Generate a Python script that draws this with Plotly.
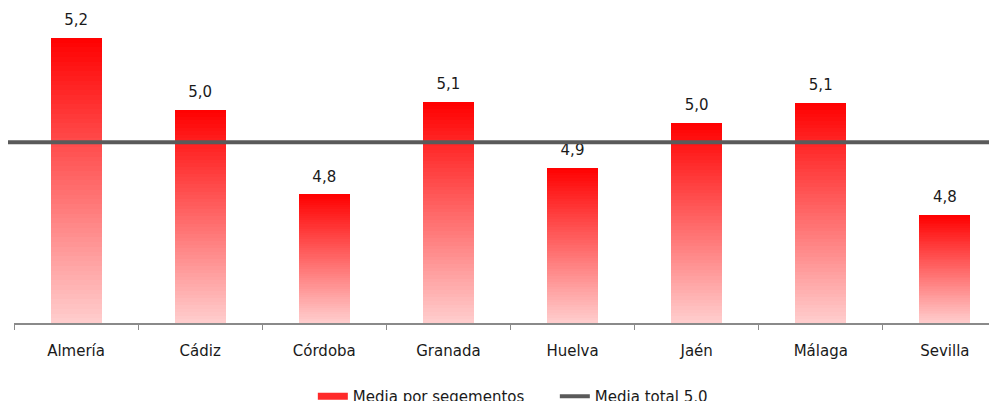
import plotly.graph_objects as go

# ---- data ----
provincias = ["Almería", "Cádiz", "Córdoba", "Granada", "Huelva", "Jaén", "Málaga", "Sevilla"]
media_segmentos = [5.214, 5.034, 4.822, 5.054, 4.889, 5.001, 5.052, 4.771]
media_total = 4.953
nombre_barras = "Media por segementos"
nombre_linea = "Media total 5,0"

# ---- styling ----
eje_min, eje_max = 4.5, 5.289
n_seg = 60
rojo_arriba = (255, 0, 0)
rosa_abajo = (255, 206, 206)
gris_linea = "#5a5a5a"
fuente = "DejaVu Sans"

fig = go.Figure()

# gradient bars: each bar split into stacked slices from pale (bottom) to red (top)
for k in range(n_seg):
    t = (k + 0.5) / n_seg
    c = tuple(round(rosa_abajo[i] + (rojo_arriba[i] - rosa_abajo[i]) * t) for i in range(3))
    base = [eje_min + (v - eje_min) * k / n_seg for v in media_segmentos]
    alto = [(v - eje_min) / n_seg for v in media_segmentos]
    fig.add_trace(go.Bar(
        x=provincias, y=alto, base=base, width=0.41,
        marker=dict(color="rgb(%d,%d,%d)" % c, line=dict(width=0)),
        showlegend=False, hoverinfo="skip",
    ))

# value labels (invisible marker keeps the text a little above the bar)
fig.add_trace(go.Scatter(
    x=provincias, y=media_segmentos, mode="markers+text",
    marker=dict(size=13, opacity=0),
    texttemplate="%{y:.1f}", textposition="top center",
    textfont=dict(family=fuente, size=15, color="#1a1a1a"),
    showlegend=False, hoverinfo="skip", cliponaxis=False,
))

# legend entries
fig.add_trace(go.Scatter(
    x=[None], y=[None], mode="lines", name=nombre_barras,
    line=dict(color="#ff2a2a", width=7),
))
fig.add_trace(go.Scatter(
    x=[None], y=[None], mode="lines", name=nombre_linea,
    line=dict(color=gris_linea, width=4),
))

# overall mean line across the whole chart
fig.add_shape(
    type="line", xref="paper", yref="y",
    x0=-6 / 983, x1=1.0, y0=media_total, y1=media_total,
    line=dict(color=gris_linea, width=4), layer="above",
)

fig.update_layout(
    width=989, height=393,
    margin=dict(l=6, r=0, t=0, b=77.5, autoexpand=False),
    paper_bgcolor="white", plot_bgcolor="white",
    barmode="overlay", bargap=0,
    separators=",.",
    font=dict(family=fuente, size=15, color="#1a1a1a"),
    showlegend=True,
    legend=dict(
        orientation="h", x=0.304, xanchor="left", y=-0.181, yanchor="top",
        font=dict(family=fuente, size=15, color="#1a1a1a"),
        bgcolor="rgba(0,0,0,0)", entrywidth=197, entrywidthmode="pixels",
    ),
    xaxis=dict(
        type="category", range=[-0.5, 7.42], showgrid=False,
        showline=True, linecolor="#8a8a8a", linewidth=2,
        ticks="outside", tickson="boundaries", ticklen=5, tickcolor="#8a8a8a", tickwidth=1,
        ticklabelstandoff=13, automargin=False, fixedrange=True,
    ),
    yaxis=dict(
        range=[eje_min, eje_max], visible=False, showgrid=False, zeroline=False,
        fixedrange=True,
    ),
)

fig.write_html("out.html")
